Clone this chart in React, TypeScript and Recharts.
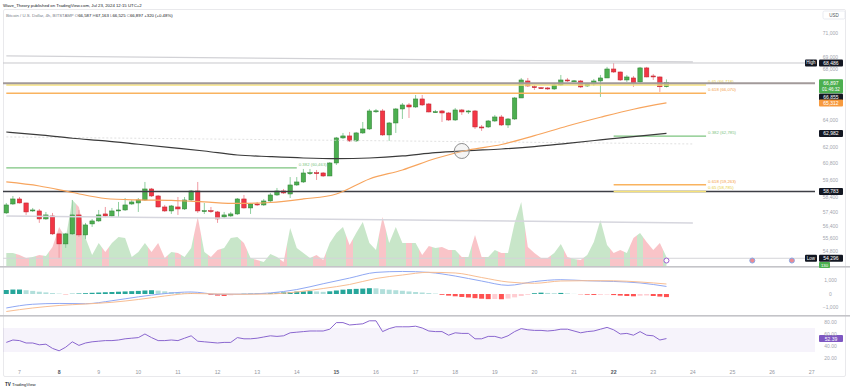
import React from 'react';
import {
  Area,
  Bar,
  Cell,
  ComposedChart,
  Line,
  ReferenceArea,
  ReferenceDot,
  ReferenceLine,
  XAxis,
  YAxis,
} from 'recharts';

const FONT = "'Liberation Sans', Arial, sans-serif";
const W = 850;
const PLOT_LEFT = 3;
const AXIS_W = 35;
const AXIS_MID = W - AXIS_W / 2 - 2;
const SLOT_COUNT = 123;

// BTC/USD 4h candles, Jul 6 16:00 -> Jul 23 08:00
const opens = [
  57303, 57918, 58263, 57987, 57439, 57439, 56896, 57099, 55892, 55232,
  55892, 57167, 55825, 56560, 56761, 57235, 57099, 57439, 57507, 57918,
  57987, 58194, 58960, 58471, 57712, 57439, 57712, 57575, 58194, 58820,
  57439, 57460, 57371, 57031, 57099, 57235, 58263, 57644, 57918, 57850,
  58125, 58541, 58820, 58610, 59241, 59453, 60092, 60110, 60092, 59878,
  60810, 62648, 62797, 62426, 63021, 63320, 64689, 64689, 62872, 63772,
  64843, 65152, 64997, 65619, 65229, 64612, 64689, 64535, 64000, 64766,
  64612, 64689, 63470, 63470, 63924, 64229, 63621, 64076, 65697, 67037,
  66580, 66500, 66483, 66404, 66720, 67117, 67037, 67037, 66641, 66800,
  67037, 67278, 68000, 67758, 67117, 67278, 66958, 68085, 67438, 67358,
  66587,
];
const highs = [
  57987, 58471, 58400, 58000, 57644, 57575, 57371, 57303, 55960, 55960,
  58194, 57507, 56627, 56896, 57507, 57712, 57644, 58056, 58330, 58194,
  58330, 59453, 59030, 58541, 57850, 57850, 58400, 58400, 58890, 59453,
  57987, 57712, 57439, 57371, 57371, 58330, 58541, 57987, 58056, 58263,
  58680, 59030, 58960, 59800, 59800, 60380, 60380, 60307, 60160, 60880,
  62723, 63021, 63096, 63096, 63848, 64843, 64843, 64843, 63848, 64920,
  65307, 65307, 65931, 65931, 65307, 64766, 64766, 64612, 64920, 64843,
  64766, 64766, 63621, 64000, 64382, 64382, 64152, 65775, 67278, 67278,
  66720, 66562, 66562, 66879, 67518, 67278, 67117, 67117, 66879, 67197,
  67518, 68170, 68486, 67790, 67518, 67438, 68170, 68170, 67598, 67400,
  67163,
];
const lows = [
  57235, 57850, 57950, 57167, 57371, 56630, 56830, 55825, 54296, 54970,
  55825, 55693, 55560, 56358, 56694, 57031, 57031, 57031, 57439, 57850,
  57371, 58125, 58400, 57680, 57371, 57235, 57167, 57507, 58125, 57303,
  57235, 57303, 56630, 56896, 57031, 57167, 57600, 57235, 57781, 57781,
  58056, 58471, 58610, 58330, 59170, 59380, 59950, 59594, 59810, 59870,
  60666, 62574, 62352, 62352, 62946, 63245, 64535, 62797, 62426, 63021,
  64076, 64152, 64920, 65074, 64580, 64535, 63848, 63924, 63924, 64382,
  64458, 63320, 63170, 63395, 63848, 63545, 63395, 64000, 65697, 66562,
  66325, 66404, 66325, 66325, 66641, 66958, 66958, 66483, 66562, 66641,
  65775, 67278, 67680, 67037, 66958, 66562, 66879, 67330, 67117, 66167,
  66525,
];
const closes = [
  57850, 58263, 57987, 57371, 57507, 56896, 57167, 55892, 55232, 55892,
  57167, 55825, 56492, 56761, 57167, 57099, 57439, 57507, 57850, 58056,
  58194, 58960, 58471, 57712, 57439, 57781, 57575, 58194, 58820, 57439,
  57460, 57440, 56896, 57167, 57235, 58263, 57644, 57918, 57850, 58125,
  58541, 58820, 58680, 59241, 59453, 60092, 60110, 60080, 59878, 60810,
  62648, 62797, 62426, 63021, 63320, 64689, 64700, 62872, 63772, 64843,
  65152, 64997, 65619, 65152, 64612, 64630, 64535, 64000, 64766, 64612,
  64689, 63470, 63395, 63924, 64229, 63621, 64076, 65697, 67117, 66641,
  66550, 66470, 66404, 66720, 67117, 67037, 67050, 66562, 66800, 67037,
  67278, 68000, 67758, 67117, 67358, 66879, 68085, 67358, 67358, 66577,
  66897,
];
const volumes = [
  260, 260, 220, 160, 180, 220, 200, 380, 780, 560,
  1320, 1180, 560, 220, 460, 280, 460, 580, 560, 180,
  280, 460, 280, 460, 160, 280, 260, 180, 360, 980,
  280, 180, 320, 360, 560, 580, 460, 160, 120, 80,
  240, 180, 80, 760, 360, 260, 160, 220, 120, 460,
  660, 780, 420, 660, 880, 460, 320, 980, 460, 780,
  460, 460, 460, 220, 400, 360, 380, 320, 320, 180,
  180, 620, 180, 180, 320, 260, 260, 860, 1280, 380,
  260, 160, 160, 260, 440, 180, 140, 120, 220, 480,
  920, 420, 260, 320, 260, 560, 660, 480, 320, 460,
  180,
];

// [candle number, value]
const ema50Points = [
  [1, 59453], [6, 59170], [11, 58715], [16, 58297], [21, 58194], [26, 58160],
  [31, 58056], [36, 57952], [41, 58020], [46, 58263], [51, 58610], [56, 59666],
  [61, 60307], [66, 61135], [71, 61757], [76, 62160], [81, 62820], [86, 63545],
  [91, 64206], [96, 64823], [101, 65312],
];
const sma200Points = [
  [1, 63093], [6, 62872], [11, 62625], [16, 62426], [21, 62180], [26, 61933],
  [31, 61684], [36, 61391], [41, 61270], [46, 61172], [51, 61123], [56, 61172],
  [61, 61320], [66, 61563], [71, 61707], [76, 61830], [81, 62004], [86, 62250],
  [91, 62500], [96, 62750], [101, 62982],
];
const macdPoints = [
  [1, -1037], [5, -760], [9, -700], [13, -720], [17, -500], [21, -210], [25, 30],
  [29, 150], [33, -20], [37, -10], [41, 80], [45, 330], [49, 760], [53, 1180],
  [57, 1600], [61, 1670], [65, 1600], [69, 1330], [73, 960], [77, 640], [81, 920],
  [85, 1060], [89, 980], [93, 930], [97, 820], [101, 560],
];
const signalPoints = [
  [1, -1296], [5, -1037], [9, -852], [13, -741], [17, -615], [21, -407], [25, -148],
  [29, 37], [33, 0], [37, -22], [41, 0], [45, 148], [49, 407], [53, 704],
  [57, 1148], [61, 1407], [65, 1607], [69, 1556], [73, 1222], [77, 889], [81, 793],
  [85, 963], [89, 985], [93, 978], [97, 889], [101, 741],
];
const histValues = [
  300, 330, 330, 280, 230, 170, 120, 70, 30, -20,
  20, 40, 60, 90, 110, 130, 150, 170, 190, 210,
  230, 260, 280, 250, 200, 150, 100, 60, 80, 50,
  30, -60, -120, -150, -100, -40, 20, 30, 40, 50,
  70, 100, 120, 150, 180, 200, 210, 190, 160, 200,
  260, 320, 360, 380, 400, 430, 420, 360, 320, 280,
  240, 190, 150, 110, 70, 30, -60, -120, -170, -220,
  -260, -310, -350, -380, -370, -390, -340, -250, -150, -60,
  60, 100, 80, 60, 80, 40, 10, -20, -50, -70,
  -60, -40, -80, -120, -150, -170, -130, -110, -150, -190,
  -230,
];
const rsiValues = [
  46, 50, 49, 45, 45, 42, 43, 36, 32, 38,
  47, 41, 45, 47, 48, 49, 49, 50, 52, 53,
  54, 60, 54, 49, 49, 50, 49, 53, 57, 48,
  47, 46, 45, 46, 46, 54, 52, 52, 53, 55,
  57, 56, 57, 62, 63, 64, 65, 65, 65, 68,
  79, 79, 75, 76, 77, 82, 82, 64, 69, 72,
  72, 72, 73, 70, 65, 64, 64, 58, 62, 61,
  61, 52, 52, 56, 56, 53, 57, 64, 69, 67,
  66, 66, 65, 66, 68, 68, 65, 62, 64, 65,
  68, 71, 67, 60, 61, 58, 64, 58, 57, 50,
  52.39,
];

const priceTicks = [71000, 69000, 68000, 64000, 62000, 60800, 59600, 58400, 57400, 56400, 55600, 54800];
const macdTicks = [1000, 0, -1000];
const rsiTicks = [80, 60, 40, 20];
const boldDays = ['8', '15', '22'];

const UP = '#4caf50';
const UP_EDGE = '#2e7d32';
const DOWN = '#f23645';
const DOWN_EDGE = '#b7252f';
const UP_WICK = '#8fcf9f';
const DOWN_WICK = '#f09aa2';
const VOL_UP = '#c8e6c9';
const VOL_DOWN = '#f9c4c8';

const rows: any[] = Array.from({ length: SLOT_COUNT }, (_, k) => {
  const h = 16 + 4 * k;
  const day = 6 + Math.floor(h / 24);
  const hour = h % 24;
  const row: any = { slot: `Jul ${day} ${String(hour).padStart(2, '0')}:00`, day, hour };
  if (k < opens.length) {
    row.open = opens[k];
    row.high = highs[k];
    row.low = lows[k];
    row.close = closes[k];
    row.range = [lows[k], highs[k]];
    row.vol = volumes[k];
    row.hist = histValues[k];
    row.rsi = rsiValues[k];
  }
  return row;
});
ema50Points.forEach(([i, v]) => (rows[i - 1].ema = v));
sma200Points.forEach(([i, v]) => (rows[i - 1].sma = v));
macdPoints.forEach(([i, v]) => (rows[i - 1].macd = v));
signalPoints.forEach(([i, v]) => (rows[i - 1].signal = v));

const slot = (i: number) => rows[i - 1].slot;
const dayTicks = rows.filter((r) => r.hour === 0).map((r) => r.slot);

const histColor = (k: number) => {
  const v = histValues[k];
  const prev = k > 0 ? histValues[k - 1] : v;
  if (v >= 0) return v >= prev ? '#26a69a' : '#b2dfdb';
  return v <= prev ? '#ff5252' : '#ffcdd2';
};

function Candle(props: any) {
  const { x, y, width, height, payload } = props;
  if (!payload || payload.open == null || y == null) return <g />;
  const top = Math.min(y, y + height);
  const bottom = Math.max(y, y + height);
  const span = Math.log(payload.high) - Math.log(payload.low);
  const toY = (v: number) =>
    span > 0 ? top + ((Math.log(payload.high) - Math.log(v)) / span) * (bottom - top) : top;
  const up = payload.close >= payload.open;
  const yO = toY(payload.open);
  const yC = toY(payload.close);
  const cx = x + width / 2;
  return (
    <g>
      <line x1={cx} x2={cx} y1={top} y2={bottom} stroke={up ? UP_WICK : DOWN_WICK} strokeWidth={1} />
      <rect
        x={x + 0.3}
        y={Math.min(yO, yC)}
        width={Math.max(1, width - 0.6)}
        height={Math.max(1, Math.abs(yO - yC))}
        fill={up ? UP : DOWN}
        stroke={up ? UP_EDGE : DOWN_EDGE}
        strokeWidth={0.5}
      />
    </g>
  );
}

const priceTag =
  (text: string, bg: string, opts: { dy?: number; prefix?: string; sub?: string } = {}) =>
  (props: any) => {
    const vb = props.viewBox || {};
    const right = (vb.x || 0) + (vb.width || 0);
    const yc = (vb.y || 0) + (opts.dy || 0);
    const h = opts.sub ? 14 : 7;
    return (
      <g fontFamily={FONT}>
        {opts.prefix && (
          <g>
            <rect x={right - 10} y={yc - 3.5} width={12} height={7} rx={1} fill={bg} />
            <text x={right - 4} y={yc} textAnchor="middle" dominantBaseline="central" fontSize={4.5} fill="#fff">
              {opts.prefix}
            </text>
          </g>
        )}
        <rect x={right + 4} y={yc - 3.5} width={24} height={h} rx={1} fill={bg} />
        <text x={right + 16} y={yc} textAnchor="middle" dominantBaseline="central" fontSize={5} fill="#fff">
          {text}
        </text>
        {opts.sub && (
          <text x={right + 16} y={yc + 6.5} textAnchor="middle" dominantBaseline="central" fontSize={4.6} fill="#fff">
            {opts.sub}
          </text>
        )}
      </g>
    );
  };

const fibLabel = (text: string, color: string) => (props: any) => {
  const vb = props.viewBox || {};
  return (
    <text
      x={(vb.x || 0) + (vb.width || 0) + 2}
      y={(vb.y || 0) - 3.5}
      fontSize={4.3}
      fill={color}
      dominantBaseline="central"
      fontFamily={FONT}
    >
      {text}
    </text>
  );
};

const axisTick = (fmt: (v: number) => string) => (props: any) => (
  <text
    x={AXIS_MID}
    y={props.y}
    textAnchor="middle"
    dominantBaseline="central"
    fontSize={5}
    fill="#a3a6af"
    fontFamily={FONT}
  >
    {fmt(props.payload.value)}
  </text>
);

const DayTick = (props: any) => {
  const day = String(props.payload.value).split(' ')[1];
  const bold = boldDays.includes(day);
  return (
    <text
      x={props.x}
      y={props.y + 2}
      textAnchor="middle"
      dominantBaseline="central"
      fontSize={5.2}
      fontWeight={bold ? 700 : 400}
      fill={bold ? '#50535e' : '#9598a1'}
      fontFamily={FONT}
    >
      {day}
    </text>
  );
};

const fmtPrice = (v: number) => v.toLocaleString('en-US');

export default function App() {
  const n = opens.length - 1;
  const volStops = opens.flatMap((o, j) => {
    const c = closes[j] >= o ? VOL_UP : VOL_DOWN;
    return [
      <stop key={`a${j}`} offset={Math.max(0, (j - 0.5) / n)} stopColor={c} />,
      <stop key={`b${j}`} offset={Math.min(1, (j + 0.5) / n)} stopColor={c} />,
    ];
  });

  return (
    <div style={{ position: 'absolute', left: 0, top: 0, width: W, height: 390, background: '#fff', overflow: 'hidden', fontFamily: FONT }}>
      <div style={{ position: 'absolute', left: 3, top: 9, width: 843, height: 368, border: '1px solid #e9e9ec', borderRadius: 2, boxSizing: 'border-box' }} />

      {/* price + volume pane */}
      <div style={{ position: 'absolute', left: 0, top: 27 }}>
        <ComposedChart width={W} height={239} data={rows} margin={{ top: 0, right: 0, bottom: 0, left: PLOT_LEFT }} barCategoryGap="12%">
          <defs>
            <linearGradient id="volFill" x1="0" y1="0" x2="1" y2="0">
              {volStops}
            </linearGradient>
          </defs>
          <XAxis dataKey="slot" hide scale="band" />
          <YAxis
            yAxisId="price"
            orientation="right"
            width={AXIS_W}
            scale="log"
            domain={[53800, 71480]}
            allowDataOverflow
            ticks={priceTicks}
            interval={0}
            tickLine={false}
            axisLine={false}
            tick={axisTick(fmtPrice)}
          />
          <YAxis yAxisId="vol" hide domain={[0, 4780]} />
          <Area yAxisId="vol" dataKey="vol" type="linear" stroke="none" fill="url(#volFill)" fillOpacity={1} isAnimationActive={false} />

          <ReferenceLine yAxisId="price" segment={[{ x: slot(1), y: 69063 }, { x: slot(105), y: 68571 }]} stroke="#d2d2d6" strokeWidth={1.2} />
          <ReferenceLine yAxisId="price" y={68486} stroke="#c8c8cc" strokeWidth={1} label={priceTag('68,486', '#131722', { prefix: 'High' })} />
          <ReferenceLine yAxisId="price" y={54296} stroke="#d4d4d8" strokeWidth={1} label={priceTag('54,296', '#131722', { prefix: 'Low' })} />
          <ReferenceLine yAxisId="price" segment={[{ x: slot(1), y: 57099 }, { x: slot(105), y: 56627 }]} stroke="#d6d6de" strokeWidth={1.5} />
          <ReferenceLine yAxisId="price" segment={[{ x: slot(1), y: 62723 }, { x: slot(105), y: 62200 }]} stroke="#d8d8d8" strokeWidth={0.8} strokeDasharray="2 2" />

          <ReferenceLine yAxisId="price" segment={[{ x: slot(1), y: 66718 }, { x: slot(107), y: 66718 }]} stroke="#f6e27a" strokeWidth={1.5} label={fibLabel('0.65 (66,718)', '#e6cd45')} />
          <ReferenceLine yAxisId="price" segment={[{ x: slot(1), y: 66070 }, { x: slot(107), y: 66070 }]} stroke="#f9b35f" strokeWidth={1.5} label={fibLabel('0.618 (66,070)', '#f4a048')} />
          <ReferenceLine yAxisId="price" segment={[{ x: slot(1), y: 60463 }, { x: slot(45), y: 60463 }]} stroke="#7cc47f" strokeWidth={1.2} label={fibLabel('0.382 (60,463)', '#7cc47f')} />
          <ReferenceLine yAxisId="price" segment={[{ x: slot(93), y: 62785 }, { x: slot(107), y: 62785 }]} stroke="#7cc47f" strokeWidth={1.2} label={fibLabel('0.382 (62,785)', '#7cc47f')} />
          <ReferenceLine yAxisId="price" segment={[{ x: slot(93), y: 59263 }, { x: slot(107), y: 59263 }]} stroke="#f9b35f" strokeWidth={1.5} label={fibLabel('0.618 (59,263)', '#f4a048')} />
          <ReferenceLine yAxisId="price" y={58783} stroke="#3d3f45" strokeWidth={1.4} label={priceTag('58,783', '#131722')} />
          <ReferenceLine yAxisId="price" segment={[{ x: slot(93), y: 58785 }, { x: slot(107), y: 58785 }]} stroke="#f6e27a" strokeWidth={1.5} label={fibLabel('0.65 (58,785)', '#e6cd45')} />
          <ReferenceLine yAxisId="price" y={66855} stroke="#a29a9a" strokeWidth={1.8} label={priceTag('66,855', '#131722', { dy: 13.7 })} />

          <Line yAxisId="price" dataKey="sma" type="monotone" stroke="#3b3b3b" strokeWidth={1.2} dot={false} connectNulls isAnimationActive={false} />
          <Line yAxisId="price" dataKey="ema" type="monotone" stroke="#f7a55e" strokeWidth={1.2} dot={false} connectNulls isAnimationActive={false} />
          <ReferenceDot yAxisId="price" x={slot(70)} y={61684} r={7.5} fill="rgba(215,215,215,0.25)" stroke="#8f8f8f" strokeWidth={1} />

          <Bar yAxisId="price" dataKey="range" shape={(p: any) => <Candle {...p} />} isAnimationActive={false} />

          <ReferenceLine yAxisId="price" y={65312} stroke="none" label={priceTag('65,312', '#f79a3e')} />
          <ReferenceLine yAxisId="price" y={62982} stroke="none" label={priceTag('62,982', '#131722')} />
          <ReferenceLine yAxisId="price" y={66897} stroke="none" label={priceTag('66,897', '#4caf50', { sub: '01:46:32' })} />
          <ReferenceDot yAxisId="price" x={slot(101)} y={54150} r={2.5} fill="#fff" stroke="#9c5fd0" strokeWidth={1} />
          <ReferenceDot yAxisId="price" x={slot(114)} y={54150} r={2.5} fill="#ec8a92" stroke="#86a8e8" strokeWidth={1} />
          <ReferenceDot yAxisId="price" x={slot(120)} y={54150} r={2.5} fill="#ec8a92" stroke="#86a8e8" strokeWidth={1} />
        </ComposedChart>
      </div>

      {/* MACD pane */}
      <div style={{ position: 'absolute', left: 0, top: 268 }}>
        <ComposedChart width={W} height={47} data={rows} margin={{ top: 0, right: 0, bottom: 0, left: PLOT_LEFT }} barCategoryGap="12%">
          <XAxis dataKey="slot" hide scale="band" />
          <YAxis
            orientation="right"
            width={AXIS_W}
            domain={[-1556, 1926]}
            allowDataOverflow
            ticks={macdTicks}
            interval={0}
            tickLine={false}
            axisLine={false}
            tick={axisTick((v) => (v < 0 ? '\u2212' : '') + Math.abs(v).toLocaleString('en-US'))}
          />
          <Bar dataKey="hist" isAnimationActive={false}>
            {rows.map((r, k) => (
              <Cell key={r.slot} fill={k < histValues.length ? histColor(k) : 'none'} />
            ))}
          </Bar>
          <Line dataKey="macd" type="monotone" stroke="#90a8f3" strokeWidth={1} dot={false} connectNulls isAnimationActive={false} />
          <Line dataKey="signal" type="monotone" stroke="#f8be93" strokeWidth={1} dot={false} connectNulls isAnimationActive={false} />
        </ComposedChart>
      </div>

      {/* RSI pane */}
      <div style={{ position: 'absolute', left: 0, top: 317 }}>
        <ComposedChart width={W} height={60} data={rows} margin={{ top: 0, right: 0, bottom: 0, left: PLOT_LEFT }}>
          <XAxis
            dataKey="slot"
            scale="band"
            height={15}
            ticks={dayTicks}
            interval={0}
            tickLine={false}
            axisLine={false}
            tick={<DayTick />}
          />
          <YAxis
            orientation="right"
            width={AXIS_W}
            domain={[13.33, 88.33]}
            allowDataOverflow
            ticks={rsiTicks}
            interval={0}
            tickLine={false}
            axisLine={false}
            tick={axisTick((v) => v.toFixed(2))}
          />
          <ReferenceArea y1={30} y2={70} fill="#7e57c2" fillOpacity={0.07} stroke="none" />
          <Line dataKey="rsi" type="linear" stroke="#8a66cf" strokeWidth={1} dot={false} isAnimationActive={false} />
          <ReferenceLine y={52.39} stroke="none" label={priceTag('52.39', '#7e57c2')} />
        </ComposedChart>
      </div>

      <svg width={W} height={390} style={{ position: 'absolute', left: 0, top: 0, pointerEvents: 'none' }} fontFamily={FONT}>
        <text x={3} y={5} fontSize={4.3} fill="#131722" dominantBaseline="central">
          Wave_Theory published on TradingView.com, Jul 23, 2024 12:15 UTC+2
        </text>
        <text x={6} y={14.5} fontSize={4.3} dominantBaseline="central">
          <tspan fill="#787b86">Bitcoin / U.S. Dollar, 4h, BITSTAMP  </tspan>
          <tspan fill="#787b86"> O</tspan>
          <tspan fill="#131722">66,587</tspan>
          <tspan fill="#787b86"> H</tspan>
          <tspan fill="#131722">67,163</tspan>
          <tspan fill="#787b86"> L</tspan>
          <tspan fill="#131722">66,525</tspan>
          <tspan fill="#787b86"> C</tspan>
          <tspan fill="#131722">66,897 +320 (+0.48%)</tspan>
        </text>
        <rect x={823} y={11} width={22} height={8} rx={1.5} fill="#fff" stroke="#e0e3eb" strokeWidth={0.7} />
        <text x={834} y={15} fontSize={4.5} fill="#50535e" textAnchor="middle" dominantBaseline="central">
          USD
        </text>
        <rect x={0} y={266} width={W} height={1.6} fill="#c4c4c8" />
        <rect x={0} y={315} width={W} height={1.6} fill="#c4c4c8" />
        <rect x={819} y={262} width={11} height={6} rx={0.8} fill="#4caf50" />
        <text x={824.5} y={265} fontSize={4.3} fill="#fff" textAnchor="middle" dominantBaseline="central">
          130
        </text>
        <text x={5} y={384} fontSize={4.5} fontWeight={700} fill="#131722" dominantBaseline="central">
          TV
        </text>
        <text x={12} y={384} fontSize={4.3} fill="#131722" dominantBaseline="central">
          TradingView
        </text>
      </svg>
    </div>
  );
}
